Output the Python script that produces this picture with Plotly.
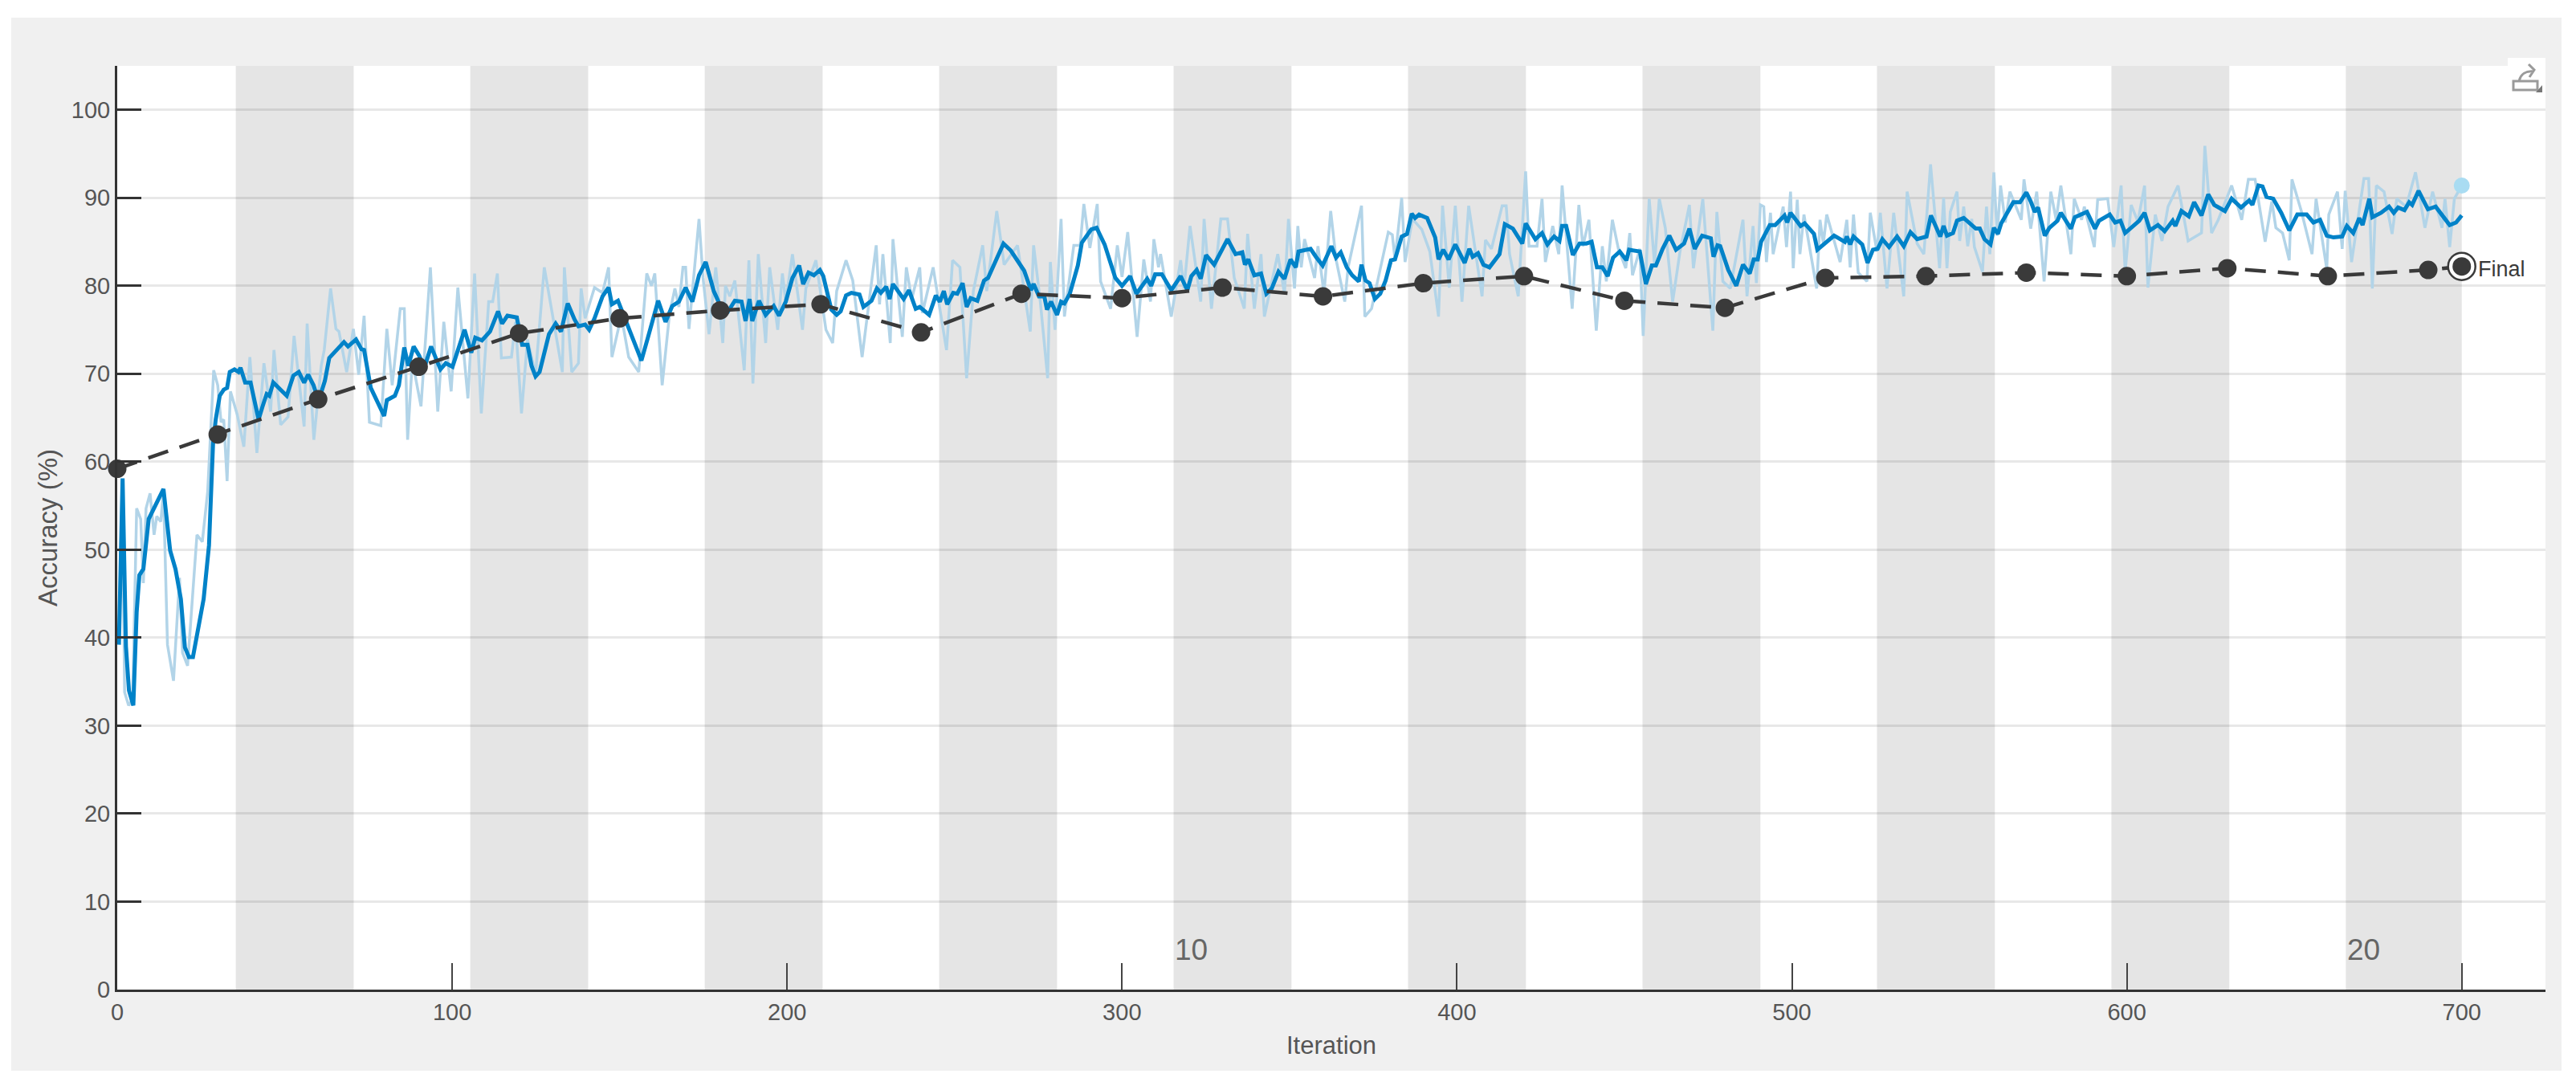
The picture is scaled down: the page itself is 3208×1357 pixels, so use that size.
import plotly.graph_objects as go

# Values
val_iter = [0, 30, 60, 90, 120, 150, 180, 210, 240, 270, 300, 330, 360, 390, 420, 450, 480, 510, 540, 570, 600, 630, 660, 690, 700]
val_acc = [59.2, 63.1, 67.1, 70.8, 74.6, 76.3, 77.2, 77.9, 74.7, 79.1, 78.6, 79.8, 78.8, 80.3, 81.1, 78.3, 77.5, 80.9, 81.1, 81.5, 81.1, 82.0, 81.1, 81.8, 82.2]

smooth_iter = [
    0.5, 1.6, 2.6, 3.5, 4.8, 5.8, 6.6, 7.8, 9.4, 13.4, 13.8, 15.8, 17.4, 19, 20.2, 21.4, 22.6, 25.8, 27.4, 28.6,
    29.4, 30.6, 31.8, 32.8, 33.6, 35, 36.2, 36.8, 38.2, 39.8, 42.2, 43.4, 44.6, 45.4, 46.6, 50.6, 52.6, 54.2, 55.8, 57,
    58.6, 60.1, 62, 63.3, 67.7, 68.9, 71.3, 72.9, 73.7, 75.7, 79.7, 80.5, 82.9, 84.1, 85.7, 86.9, 88.5, 90.1, 91.7, 93.7,
    96.5, 98.1, 100.1, 103.7, 105.7, 106.9, 108.9, 111.3, 113.7, 114.9, 116.5, 119.3, 120.9, 122.5, 123.7, 124.9, 126.1, 128.9, 130.9, 132.5,
    134.5, 136.5, 137.7, 139.7, 140.9, 142.5, 144.9, 146.7, 147.7, 149.5, 152.9, 156.5, 158.5, 161.5, 163.7, 165.7, 167.7, 169.7, 171.7, 173.7,
    175.7, 178.1, 180.1, 182.4, 184.4, 186.4, 187.6, 188.8, 189.6, 191.6, 193.6, 196, 197.6, 199.6, 201.6, 203.6, 204.8, 206.4, 208, 209.8,
    210.8, 213.2, 214.8, 216, 217.6, 219.2, 221.6, 222.8, 225.2, 226.8, 228, 229.6, 230.6, 231.6, 234.8, 236.4, 238.4, 239.6, 242.4, 244.4,
    245.6, 246.8, 247.8, 249.6, 250.8, 252.4, 253.6, 254.8, 256.8, 258.8, 260, 264.6, 266.8, 270.8, 272.8, 273.6, 275.2, 276.8, 277.6, 278.8,
    280.6, 281.8, 282.8, 284.4, 286.8, 288, 290.8, 292.4, 294.8, 298, 300, 302.4, 304.3, 307.5, 308.7, 309.9, 311.9, 314.7, 317.5, 319.5,
    320.7, 322.3, 323.5, 325.1, 327.5, 331.5, 333.9, 335.9, 336.7, 337.7, 339.5, 341.5, 343.1, 344.7, 346.7, 348.5, 350.3, 351.9, 352.7, 356.3,
    357.9, 359.9, 362.5, 363.9, 365.3, 367.1, 368.7, 370.7, 371.5, 372.7, 373.9, 375.5, 377.1, 378.7, 380.3, 381.5, 383.5, 385.1, 386.5, 387.5,
    388.7, 391.1, 393.5, 394.5, 395.9, 397.5, 399.5, 402.3, 403.7, 404.7, 406.3, 407.9, 409.7, 412.7, 414.3, 416.7, 419.5, 420.5, 423.4, 425.4,
    427, 429, 430.6, 431.4, 432.6, 434.6, 436.6, 438.6, 440.2, 441.8, 443.4, 445, 446.6, 448.6, 450.6, 451.4, 454.6, 456.4, 458.2, 459.4,
    461.4, 463.4, 465.4, 467.8, 469.4, 471, 473.2, 475.8, 476.6, 477.8, 478.6, 481, 483.4, 485.4, 487.4, 488.6, 489.8, 490.8, 493.4, 495,
    497.8, 498.6, 499.6, 502.6, 503.8, 506.6, 507.6, 509.4, 512.6, 515.8, 516.4, 517.4, 518.4, 521, 522.6, 524.2, 525.6, 527, 529, 531.4,
    533.4, 535.4, 537.4, 540.2, 541.5, 542.9, 544.3, 545.3, 546.3, 548.1, 549.3, 551.3, 554.9, 556.1, 557.5, 559.3, 560.3, 561.5, 562.5, 566.1,
    568.1, 570, 571.3, 572.5, 573.5, 575.5, 576.9, 579.3, 580.3, 583.3, 584.5, 588.1, 590.5, 591.7, 594.9, 596.5, 598.1, 599.5, 603.7, 605.3,
    606.9, 609.3, 611.3, 613.7, 614.5, 616.3, 618.5, 620.1, 622.3, 624.3, 626.1, 629.3, 631.3, 634.1, 636.5, 637.5, 639.3, 640.5, 641.7, 643.7,
    646.1, 648.5, 650.9, 653.7, 655.7, 657.7, 659.7, 661.7, 664.3, 665.7, 667.6, 669.4, 670.4, 672.4, 673.3, 675.9, 678.3, 679.7, 681, 682.9,
    684.3, 685.2, 687.1, 689.9, 692.2, 694.6, 696.4, 698.3, 700,
]
smooth_acc = [
    39.2, 58.1, 39, 34, 32.3, 42.9, 47.1, 47.8, 53.5, 56.6, 56.9, 49.9, 47.8, 44.4, 38.9, 37.8, 37.8, 44.4, 50.5, 62,
    64.8, 67.5, 68.2, 68.4, 70.2, 70.5, 70.2, 70.7, 69, 69, 64.8, 66.3, 67.7, 67.5, 69, 67.5, 69.8, 70.2, 69, 69.9,
    68.7, 66.9, 69.2, 71.8, 73.6, 73.1, 73.9, 72.8, 72.7, 68.4, 65.2, 67, 67.5, 68.7, 73, 70.9, 73.1, 72.1, 70.7, 73.1,
    70.5, 71.2, 70.8, 75, 72.4, 74.1, 73.8, 74.8, 77.1, 75.7, 76.6, 76.4, 73.3, 73.3, 70.9, 69.7, 70.2, 74.5, 75.7, 74.8,
    78, 76.2, 75.4, 75.6, 75, 76.3, 78.8, 79.8, 77.9, 78.3, 75.1, 71.5, 74.2, 78.3, 75.9, 77.7, 78.2, 79.8, 78.2, 81.2,
    82.7, 79.4, 77.7, 77.1, 78.3, 78.2, 76, 78.5, 76, 78.3, 76.7, 77.7, 76.6, 78.2, 80.9, 82.3, 80.2, 81.5, 81.2, 81.8,
    81.1, 77.3, 76.7, 77.1, 78.9, 79.2, 79, 77.6, 78.3, 79.7, 79.2, 79.9, 78.5, 80.2, 78.5, 79.5, 77.4, 77.6, 76.7, 78.9,
    78.2, 79.4, 77.9, 79.2, 79.1, 80.3, 77.6, 78.6, 78.3, 80.6, 80.9, 84.8, 84, 81.7, 79.5, 80.2, 78.8, 78.8, 77.3, 78.2,
    76.7, 78.2, 78, 79.1, 82.3, 84.9, 86.4, 86.6, 84.7, 80.9, 80, 81.1, 79.1, 80.8, 80, 81.3, 81.3, 79.5, 81.1, 79.5,
    81.1, 81.8, 80.8, 83.5, 82.4, 85.3, 83.6, 83.8, 82.4, 83, 81.2, 81.4, 79.1, 79.7, 81.6, 80.8, 83, 82.1, 83.9, 84.2,
    83.3, 82.3, 84.5, 83.2, 83.8, 82.1, 81.2, 80.5, 82.4, 80.6, 80.3, 78.5, 79.1, 80.6, 82.9, 83, 85.6, 85.9, 88.2, 87.7,
    88.1, 87.7, 85.5, 83, 84.1, 83, 84.7, 82.6, 84.2, 83.3, 83.7, 82.4, 82.1, 83.6, 87, 86.5, 84.8, 87.1, 85.3, 86,
    84.7, 85.6, 85.1, 86.8, 86.8, 83.5, 84.8, 84.8, 85, 82.1, 82.1, 81.1, 83.2, 83.9, 82.9, 84.1, 83.9, 80.2, 82.3, 82.3,
    84.2, 85.7, 84.1, 84.8, 86.5, 84.2, 85.7, 85.4, 83.3, 84.6, 84.5, 81.8, 80, 82.4, 81.4, 83, 83, 85, 86.9, 86.9,
    88, 87.2, 88.3, 86.8, 87.1, 85.9, 84.1, 84.7, 85.7, 85, 85.6, 84.7, 85.6, 84.7, 82.6, 84.1, 84.2, 85.3, 84.4, 85.6,
    84.5, 86.1, 85.3, 85.6, 88, 86.8, 85.6, 86.8, 85.7, 86, 87.4, 87.7, 86.5, 86.5, 85.3, 84.7, 86.6, 85.9, 87.1, 89.5,
    89.5, 90.6, 89.6, 88.4, 88.9, 85.7, 86.6, 87.4, 88.3, 86.5, 87.8, 88.4, 86.5, 87.4, 88.1, 87.2, 87.4, 86, 87.4, 88.3,
    86.3, 86.9, 86.2, 87.4, 86.8, 88.5, 87.9, 89.5, 88, 90.4, 89.2, 88.5, 89.9, 88.9, 89.7, 89.2, 91.4, 91.3, 90.1, 89.9,
    88.3, 86.3, 88.1, 88.1, 87.2, 87.5, 85.7, 85.5, 85.6, 86.8, 86, 87.7, 86.9, 89.9, 87.8, 88.3, 89, 88.3, 88.9, 88.6,
    89.5, 89.2, 90.8, 88.7, 89, 87.8, 86.9, 87.2, 88,
]

raw_iter = [
    0.5, 1.5, 2.2, 3.4, 4.6, 5.8, 7, 7.8, 8.6, 9.8, 11, 11.8, 13, 13.8, 15, 16.8, 18.6, 19.5, 21, 23.8,
    25.4, 27, 28.8, 30, 31, 31.8, 32.8, 33.8, 35.8, 37.8, 39.6, 41.7, 43.8, 45.8, 46.8, 48.8, 51, 52.8, 55.8, 56.7,
    58.7, 60.9, 61.8, 63.7, 65.3, 66.2, 68.5, 70.5, 72.1, 73.7, 75.3, 78.7, 80.5, 82.1, 84.5, 85.7, 86.7, 88.1, 90.7, 93.5,
    95.7, 97.5, 99.7, 101.7, 104.7, 106.7, 108.7, 110.9, 112.1, 113.5, 114.7, 117.7, 118.9, 120.7, 122.5, 124.9, 127.5, 129.7, 132.9, 133.5,
    135.7, 137.7, 138.5, 139.7, 142.5, 144.9, 146.7, 147.7, 150.5, 152.7, 155.7, 158.1, 159.5, 160.5, 162.7, 164.9, 166.5, 167.7, 168.9, 169.7,
    170.7, 173.7, 174.9, 176.7, 178.7, 180.8, 181.6, 182.9, 184.4, 187.2, 188.6, 189.8, 191.4, 193.6, 194.8, 197.2, 198.6, 199.6, 201.6, 204.6,
    205.6, 208.6, 211.6, 213.6, 214.8, 217.6, 219.6, 222.4, 226.6, 227.6, 228.6, 230.8, 231.6, 234.4, 235.6, 237.2, 239.6, 240.4, 243.6, 247.6,
    249.4, 251.6, 253.6, 255.6, 258.4, 259.6, 262.6, 264.8, 268.8, 272.6, 273.6, 275.6, 277.8, 278.6, 280, 281.8, 282.8, 285.6, 287.5, 288.6,
    290.4, 292.6, 293.6, 296.6, 298.6, 300, 301.7, 304.5, 306.5, 308.5, 309.5, 310.9, 311.5, 314.7, 317.5, 318.5, 320.3, 323.5, 324.5, 326.7,
    329.5, 331.5, 333.5, 336.5, 337.5, 339.5, 341.5, 342.5, 346.5, 348.5, 349.7, 351.5, 352.5, 353.5, 354.5, 357.5, 358.5, 360.3, 362.3, 363.9,
    366.5, 367.5, 371.5, 372.5, 374.5, 379.5, 380.7, 381.5, 383.5, 384.5, 386.7, 389.5, 391.9, 394.5, 395.7, 397.7, 399.5, 401.5, 403.5, 407.5,
    408.5, 410.3, 413.5, 414.7, 415.7, 418.3, 420.5, 421.5, 423.9, 425.4, 426.4, 428.6, 430.4, 431.4, 434.4, 436.4, 437.6, 439.4, 441.6, 443.4,
    444.6, 446.4, 448.2, 450.4, 451.6, 452.4, 454.6, 455.6, 457.4, 459, 460.4, 462.2, 464.4, 466.6, 469.4, 470.6, 473.4, 476.4, 477.6, 479.4,
    481.6, 485.4, 486.6, 488.4, 489.4, 490.6, 491.6, 492.4, 493.6, 494.4, 497.4, 498.4, 499.6, 500.4, 501.6, 502.4, 503.6, 507.4, 508.4, 509.4,
    510.4, 514.4, 516.4, 517.4, 518.4, 519.8, 522.4, 523.4, 525.4, 526.4, 528.4, 530.4, 533.4, 534.4, 537.4, 539.4, 541.4, 544.1, 545.3, 546.3,
    547.3, 549.3, 550.1, 551.3, 552.5, 553.7, 554.5, 556.9, 558.1, 559.1, 560.3, 561.3, 562.3, 563.7, 565.1, 568.5, 569.3, 571.3, 573.1, 575.3,
    577.3, 578.9, 580.3, 583.3, 584.3, 586.5, 587.3, 590.3, 591.3, 594.3, 596.1, 598.3, 599.5, 601.3, 603.3, 605.3, 606.3, 608.5, 610.5, 612.3,
    615.3, 618.3, 622.3, 623.3, 625.3, 627.3, 631.3, 634.3, 636.3, 638.3, 641.3, 643.3, 644.5, 646.5, 648.5, 649.3, 652.1, 655.3, 656.5, 659.7,
    660.3, 662.9, 664.3, 665.2, 667.1, 670.8, 672.2, 673.3, 674.5, 676.8, 679.2, 680.6, 683.4, 686.2, 689, 691.3, 694.1, 695, 696.4, 697.8, 700,
]
raw_acc = [
    40, 58, 33.8, 32.3, 33, 54.7, 53.5, 46.2, 54.7, 56.4, 51.7, 53.8, 53.2, 56.6, 39.2, 35.1, 46.8, 38.3, 36.8, 51.7,
    50.9, 56.6, 70.4, 68.7, 64.5, 64.8, 57.8, 68, 65.4, 61.7, 71.9, 61, 71.2, 65.7, 72.7, 64.2, 65.1, 74.3, 64, 75.7,
    62.5, 70.9, 72.7, 79.7, 75.1, 74.8, 70.2, 75.1, 69.9, 76.6, 64.5, 64.1, 75.1, 68.7, 77.4, 77.4, 62.5, 71.5, 66.3, 82.1,
    65.7, 75.9, 68, 79.8, 67.2, 81.4, 65.5, 78.2, 78.2, 81.4, 71.8, 71.9, 75.9, 65.5, 73.9, 69.9, 82.1, 77.3, 70.2, 82.1,
    70.2, 71.2, 79.7, 76.3, 79.8, 79.2, 82.1, 71.9, 76.6, 71.9, 70.2, 81.4, 80, 81.4, 68.7, 76.8, 79.7, 77.6, 82.1, 82.1,
    75.1, 87.6, 80.9, 74.5, 82.1, 73.5, 80, 78.8, 80.6, 70.4, 82.9, 68.9, 83.6, 73.5, 82.1, 75, 81.4, 78.2, 83.6, 75,
    79.7, 82.9, 75, 73.5, 79.4, 82.9, 80.6, 71.9, 84.6, 77.9, 83.6, 73.5, 85.3, 74.2, 82.1, 78.5, 82.1, 76.9, 82.1, 72.7,
    82.9, 82.1, 69.5, 79.4, 84.6, 79.4, 88.5, 82.4, 84.6, 74.8, 84.6, 78.2, 69.5, 82.7, 75, 87.6, 76.5, 84.6, 84.6, 89.3,
    84.3, 89.3, 80.5, 77.4, 84.6, 81, 86.1, 74.2, 83, 78.2, 85.3, 82.1, 83.6, 76.5, 82.9, 79.7, 86.8, 78.2, 87.6, 77.4,
    87.6, 87.6, 80.9, 77.4, 85.9, 77.4, 83.6, 76.5, 83.6, 79.1, 87.6, 79.7, 86.8, 82.1, 85.3, 80.9, 84.5, 79.1, 88.5, 83,
    78.2, 82.1, 89.1, 76.5, 77.4, 86.1, 85.8, 83, 90, 82.7, 87.6, 86.4, 83.9, 76.5, 89.1, 79.8, 89.1, 78.2, 89.1, 78.8,
    85.2, 84.2, 89.1, 89.1, 83.6, 78.8, 93, 84.5, 84.5, 89.9, 82.7, 86.8, 83.6, 91.4, 77.4, 89.2, 84.5, 87.5, 74.9, 84.5,
    80.5, 87.5, 84.2, 82, 86, 81.2, 84.2, 74.3, 89.9, 82.4, 89.9, 86.6, 78.2, 83.9, 89.2, 82, 89.9, 74.9, 88.4, 80.5,
    79.7, 87.5, 78.8, 86.8, 80.3, 89.2, 89, 82.7, 88.3, 83.6, 89, 84.4, 90.7, 82, 89.8, 83.6, 88.1, 79.7, 87.5, 84.8,
    88.1, 82.7, 87.5, 82.1, 88.1, 81.5, 80.5, 88.3, 83.9, 88.3, 79.7, 88.3, 78.8, 90.7, 84.8, 83.6, 93.8, 82, 90, 82,
    88.4, 90.7, 85.1, 89, 84.5, 87.6, 84.4, 81.6, 89, 83.6, 92.9, 85.7, 91.4, 87.2, 90.7, 87.5, 92.1, 86.5, 90.7, 80.5,
    90.7, 87.5, 91.4, 83.6, 89.9, 87.5, 89, 84.4, 89.8, 89.9, 84.4, 91.4, 81.6, 89.2, 87.3, 91.4, 79.8, 88.1, 85.1, 89,
    91.4, 85.1, 86, 95.9, 86, 87.5, 91.4, 87.5, 92.1, 92.1, 85, 89.6, 86.6, 86, 82.9, 92.1, 88.5, 83.6, 89.9, 81.9,
    88.1, 90.7, 84.2, 90.8, 82.7, 92.2, 92.2, 79.7, 91.4, 90.7, 85.9, 89.9, 89, 92.9, 86.6, 90.7, 86.6, 89.9, 84.4, 89.9, 91.4,
]

epoch_starts = [35.4, 105.4, 175.4, 245.4, 315.4, 385.4, 455.4, 525.4, 595.4, 665.4]
epoch_ends = [70.6, 140.6, 210.6, 280.6, 350.6, 420.6, 490.6, 560.6, 630.6, 700]
epoch_labels = ["10", "20"]
epoch_label_iter = [315, 665]
x_ticks = [0, 100, 200, 300, 400, 500, 600, 700]
y_ticks = [0, 10, 20, 30, 40, 50, 60, 70, 80, 90, 100]

BLUE = "#0082c8"
LIGHT_BLUE = "#b2d4e8"
DARK = "#3a3a3a"
TEXT = "#555555"
FONT = "Liberation Sans"

# plot area in pixels, used for the frame around the axes
W, H = 3208, 1357
LEFT, RIGHT, TOP, BOTTOM = 146, 3170, 82, 1232


def px(x):
    return (x - LEFT) / (RIGHT - LEFT)


def py(y):
    return (BOTTOM - y) / (BOTTOM - TOP)


def box(x0, y0, x1, y1, color):
    return dict(type="rect", xref="paper", yref="paper", layer="below",
                x0=px(x0), x1=px(x1), y0=py(y0), y1=py(y1),
                fillcolor=color, line_width=0)


shapes = [
    box(14, 22, 3190, 1333, "#f0f0f0"),
    box(LEFT, TOP, RIGHT, BOTTOM, "white"),
    box(3123, 72, RIGHT, TOP + 2, "white"),
]
for start, end in zip(epoch_starts, epoch_ends):
    shapes.append(dict(type="rect", xref="x", yref="paper", layer="below",
                       x0=start, x1=end, y0=0, y1=1,
                       fillcolor="#e5e5e5", line_width=0))

# little export icon in the top right corner
icon = "M%f,%f L%f,%f L%f,%f L%f,%f Z M%f,%f C%f,%f %f,%f %f,%f M%f,%f L%f,%f L%f,%f" % (
    px(3130), py(101), px(3160), py(101), px(3160), py(112), px(3130), py(112),
    px(3137), py(101), px(3139), py(92), px(3146), py(88), px(3155), py(89),
    px(3149), py(80), px(3156), py(87), px(3150), py(96),
)
shapes.append(dict(type="path", xref="paper", yref="paper", layer="above", path=icon,
                   line=dict(color="#9a9a9a", width=3)))
shapes.append(dict(type="path", xref="paper", yref="paper", layer="above",
                   path="M%f,%f L%f,%f L%f,%f Z" % (px(3166), py(106), px(3166), py(115), px(3158), py(115)),
                   fillcolor="#777777", line_width=0))

fig = go.Figure()
fig.add_trace(go.Scatter(x=raw_iter, y=raw_acc, mode="lines",
                         line=dict(color=LIGHT_BLUE, width=3.5)))
fig.add_trace(go.Scatter(x=raw_iter[-1:], y=raw_acc[-1:], mode="markers",
                         marker=dict(color="#a9dcf2", size=20)))
fig.add_trace(go.Scatter(x=smooth_iter, y=smooth_acc, mode="lines",
                         line=dict(color=BLUE, width=5)))
fig.add_trace(go.Scatter(x=val_iter, y=val_acc, mode="lines",
                         line=dict(color=DARK, width=4.5, dash="26px,15px")))
fig.add_trace(go.Scatter(x=val_iter[-1:], y=val_acc[-1:], mode="markers",
                         marker=dict(color="white", size=34, line=dict(color=DARK, width=2.5))))
fig.add_trace(go.Scatter(x=val_iter, y=val_acc, mode="markers", cliponaxis=False,
                         marker=dict(color=DARK, size=23)))

annotations = [
    dict(x=val_iter[-1], y=val_acc[-1] - 0.3, text="Final", showarrow=False, xanchor="left",
         xshift=18, font=dict(family=FONT, size=27, color=DARK)),
]
for label, it in zip(epoch_labels, epoch_label_iter):
    annotations.append(dict(x=it, y=4.5, text=label, showarrow=False, xanchor="left",
                            xshift=1, font=dict(family=FONT, size=37, color="#666666")))

fig.update_layout(
    width=W, height=H, autosize=False,
    margin=dict(l=LEFT, r=W - RIGHT, t=TOP, b=H - BOTTOM, pad=0),
    paper_bgcolor="white",
    plot_bgcolor="rgba(0,0,0,0)",
    showlegend=False,
    shapes=shapes,
    annotations=annotations,
    font=dict(family=FONT, color=TEXT, size=30),
)
fig.update_xaxes(
    range=[0, 725], tickmode="array", tickvals=x_ticks,
    showgrid=False, zeroline=False, showline=True, linecolor="#333333", linewidth=3,
    ticks="inside", ticklen=33, tickwidth=2, tickcolor="#444444",
    tickfont=dict(family=FONT, size=29, color=TEXT),
    title=dict(text="Iteration", font=dict(family=FONT, size=31, color=TEXT), standoff=16),
)
fig.update_yaxes(
    range=[0, 105], tickmode="array", tickvals=y_ticks,
    showgrid=True, gridcolor="rgba(0,0,0,0.09)", gridwidth=3,
    zeroline=False, showline=True, linecolor="#333333", linewidth=3,
    ticks="inside", ticklen=30, tickwidth=2.5, tickcolor="#333333",
    tickfont=dict(family=FONT, size=29, color=TEXT),
    title=dict(text="Accuracy (%)", font=dict(family=FONT, size=33, color=TEXT), standoff=8),
)

fig.write_html("out.html", config=dict(displayModeBar=False),
               post_script="document.body.style.margin='0';")
